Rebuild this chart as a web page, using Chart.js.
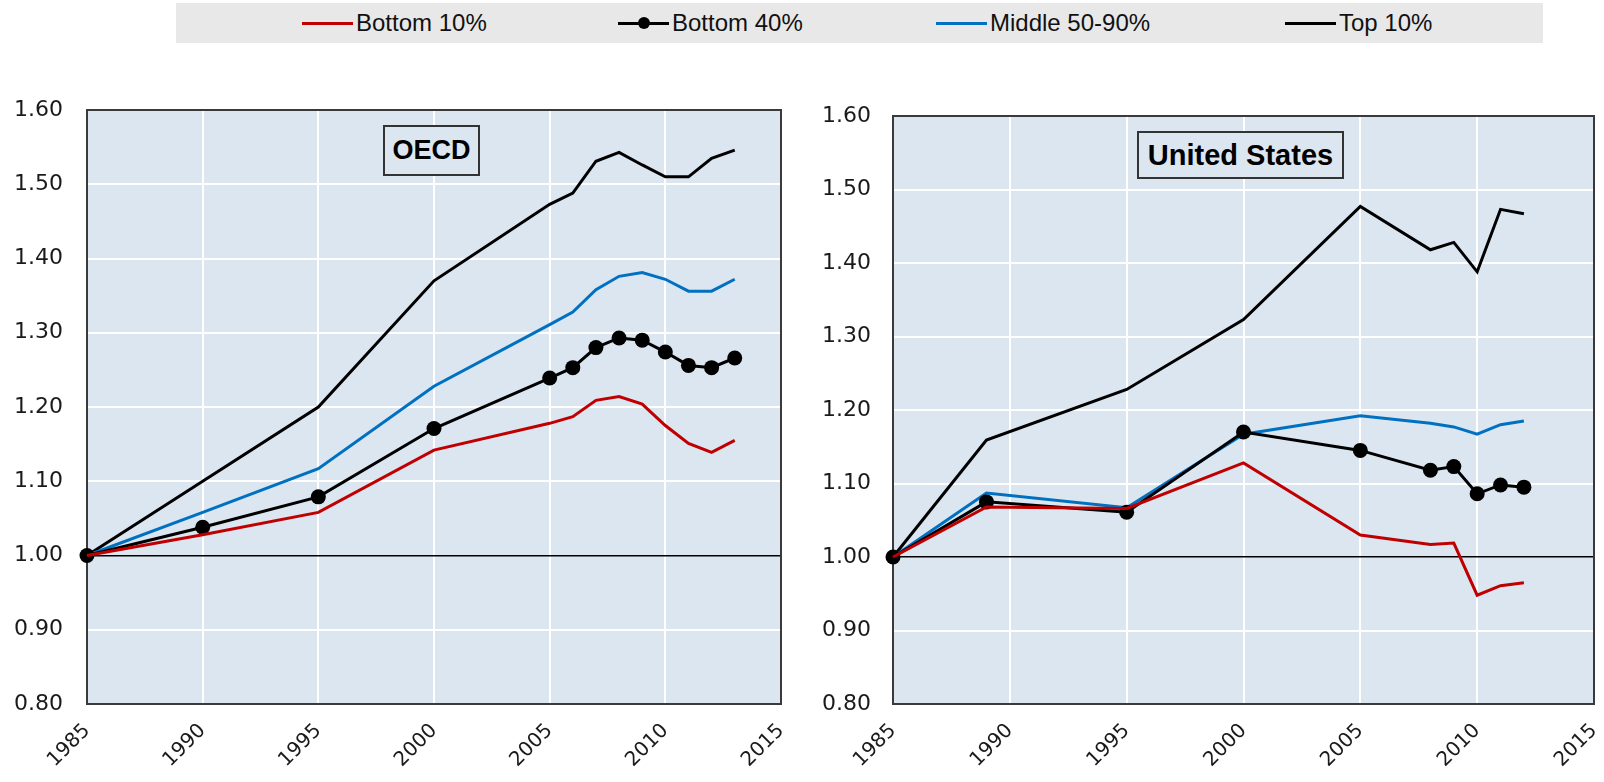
<!DOCTYPE html>
<html>
<head>
<meta charset="utf-8">
<script src="https://cdn.jsdelivr.net/npm/chart.js@4.4.1/dist/chart.umd.min.js"></script>
<style>
html,body{margin:0;padding:0;background:#fff;}
body{width:1604px;height:782px;overflow:hidden;position:relative;font-family:"Liberation Sans",Arial,sans-serif;}
#legend{position:absolute;left:176px;top:3px;width:1367px;height:40px;background:#e8e8e8;}
.li{position:absolute;top:0;height:40px;display:flex;align-items:center;font-size:24px;color:#111;white-space:nowrap;}
.sw{display:inline-block;width:51px;height:3px;margin-right:3px;position:relative;}
.dot{position:absolute;left:50%;top:50%;width:12px;height:12px;border-radius:50%;background:#000;transform:translate(-50%,-50%);}
.box{position:absolute;box-sizing:border-box;border:2px solid #333;background:#dce6f1;font-weight:bold;display:flex;align-items:center;justify-content:center;color:#000;font-family:"Liberation Sans",Arial,sans-serif;}
canvas{position:absolute;}
</style>
</head>
<body>
<div id="legend">
  <div class="li" style="left:126px"><span class="sw" style="background:#c00000"></span>Bottom 10%</div>
  <div class="li" style="left:442px"><span class="sw" style="background:#000"><span class="dot"></span></span>Bottom 40%</div>
  <div class="li" style="left:760px"><span class="sw" style="background:#0070c0"></span>Middle 50-90%</div>
  <div class="li" style="left:1109px"><span class="sw" style="background:#000"></span>Top 10%</div>
</div>
<canvas id="c1" width="800" height="722" style="left:0;top:60px;width:800px;height:722px"></canvas>
<canvas id="c2" width="804" height="722" style="left:800px;top:60px;width:804px;height:722px"></canvas>
<div class="box" style="left:383px;top:125px;width:97px;height:51px;font-size:27px">OECD</div>
<div class="box" style="left:1137px;top:131px;width:207px;height:48px;font-size:29px">United States</div>
<script>
// ---- Data ----
const xTickLabels = ['1985','1990','1995','2000','2005','2010','2015'];
const yTickLabels = ['0.80','0.90','1.00','1.10','1.20','1.30','1.40','1.50','1.60'];
const seriesNames = ['Bottom 10%','Bottom 40%','Middle 50-90%','Top 10%'];

const oecdYears    = [1985, 1990, 1995, 2000, 2005, 2006, 2007, 2008, 2009, 2010, 2011, 2012, 2013];
const oecdBottom10 = [1.000, 1.028, 1.058, 1.142, 1.178, 1.187, 1.209, 1.214, 1.204, 1.175, 1.151, 1.139, 1.155];
const oecdBottom40 = [1.000, 1.038, 1.079, 1.171, 1.239, 1.253, 1.280, 1.293, 1.290, 1.274, 1.256, 1.253, 1.266];
const oecdMiddle   = [1.000, 1.058, 1.117, 1.228, 1.311, 1.328, 1.358, 1.376, 1.381, 1.372, 1.356, 1.356, 1.372];
const oecdTop10    = [1.000, 1.100, 1.200, 1.370, 1.473, 1.488, 1.531, 1.543, 1.526, 1.510, 1.510, 1.535, 1.546];

const usYears    = [1985, 1989, 1995, 2000, 2005, 2008, 2009, 2010, 2011, 2012];
const usBottom10 = [1.000, 1.068, 1.066, 1.128, 1.030, 1.017, 1.019, 0.948, 0.961, 0.965];
const usBottom40 = [1.000, 1.075, 1.061, 1.170, 1.145, 1.118, 1.123, 1.086, 1.098, 1.095];
const usMiddle   = [1.000, 1.087, 1.067, 1.167, 1.192, 1.182, 1.177, 1.167, 1.180, 1.185];
const usTop10    = [1.000, 1.159, 1.228, 1.323, 1.477, 1.418, 1.428, 1.388, 1.473, 1.467];

const colors = ['#c00000', '#000000', '#0070c0', '#000000'];

// ---- Plugin: plot background and frame ----
const framePlugin = {
  id: 'frame',
  beforeDraw(chart) {
    const a = chart.chartArea, ctx = chart.ctx;
    ctx.save();
    ctx.fillStyle = '#dce6f1';
    ctx.fillRect(a.left, a.top, a.right - a.left, a.bottom - a.top);
    ctx.restore();
  },
  beforeDatasetsDraw(chart) {
    const a = chart.chartArea, ctx = chart.ctx;
    ctx.save();
    ctx.strokeStyle = '#3a3a3a';
    ctx.lineWidth = 2;
    ctx.strokeRect(a.left, a.top, a.right - a.left, a.bottom - a.top);
    ctx.restore();
  }
};

function makeChart(id, years, series, pad, yLabelPad) {
  const toXY = arr => arr.map((v, i) => ({x: years[i], y: v}));
  const datasets = series.map((arr, i) => ({
    label: seriesNames[i],
    data: toXY(arr),
    borderColor: colors[i],
    backgroundColor: colors[i],
    borderWidth: 3,
    pointRadius: i === 1 ? 7.5 : 0,
    pointBackgroundColor: '#000',
    pointBorderWidth: 0,
    tension: 0,
    clip: false
  }));
  return new Chart(document.getElementById(id), {
    type: 'line',
    data: {datasets},
    plugins: [framePlugin],
    options: {
      responsive: false,
      animation: false,
      layout: {padding: {left: 0, top: pad.top, right: pad.right, bottom: 0}},
      plugins: {legend: {display: false}, tooltip: {enabled: false}},
      scales: {
        x: {
          type: 'linear', min: 1985, max: 2015,
          afterBuildTicks: s => { s.ticks = xTickLabels.map(t => ({value: Number(t)})); },
          afterFit: s => { s.height = 78; s.paddingLeft = 0; s.paddingRight = 0; },
          grid: {color: '#ffffff', lineWidth: 2, drawTicks: false},
          border: {display: false},
          ticks: {
            autoSkip: false, minRotation: 45, maxRotation: 45, padding: 15,
            color: '#1a1a1a', font: {family: 'DejaVu Sans', size: 20},
            callback: v => String(v)
          }
        },
        y: {
          type: 'linear', min: 0.8, max: 1.6,
          afterBuildTicks: s => { s.ticks = yTickLabels.map(t => ({value: Number(t)})); },
          afterFit: s => { s.width = pad.left; s.paddingTop = 0; s.paddingBottom = 0; },
          grid: {
            color: c => Math.abs(c.tick.value - 1) < 1e-6 ? '#000000' : '#ffffff',
            lineWidth: c => Math.abs(c.tick.value - 1) < 1e-6 ? 1.5 : 2,
            drawTicks: false
          },
          border: {display: false},
          ticks: {
            padding: yLabelPad, color: '#1a1a1a', font: {family: 'DejaVu Sans', size: 22},
            callback: v => Number(v).toFixed(2)
          }
        }
      }
    }
  });
}

makeChart('c1', oecdYears, [oecdBottom10, oecdBottom40, oecdMiddle, oecdTop10], {left: 87, top: 50, right: 19}, 24);
makeChart('c2', usYears, [usBottom10, usBottom40, usMiddle, usTop10], {left: 93, top: 56, right: 10}, 22);
</script>
</body>
</html>
